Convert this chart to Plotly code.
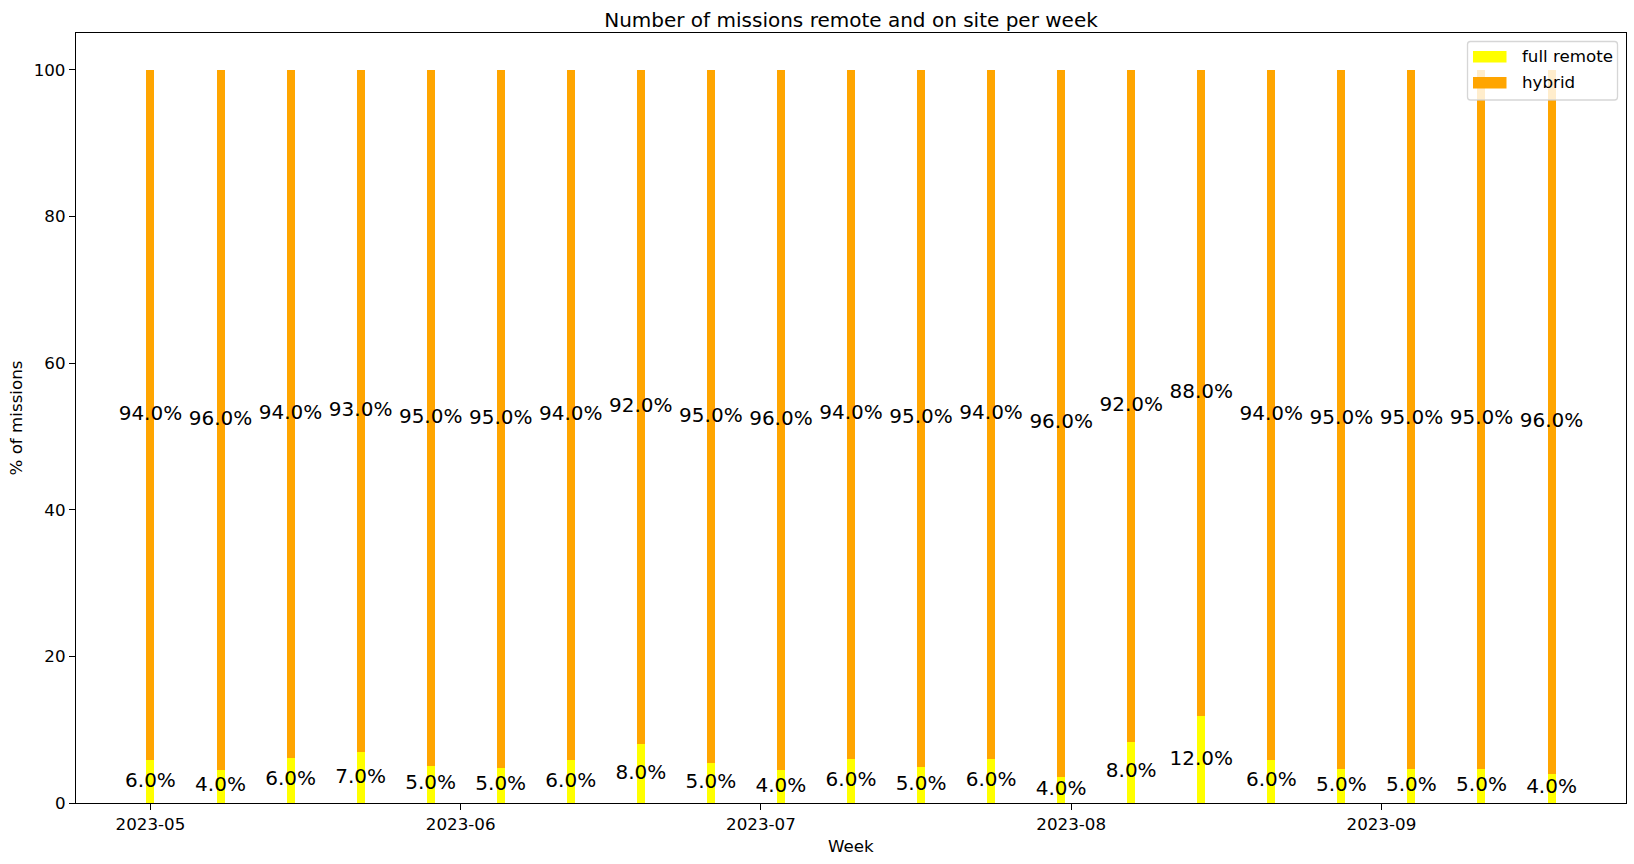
import plotly.graph_objects as go

weeks = ["2023-05-01", "2023-05-08", "2023-05-15", "2023-05-22", "2023-05-29", "2023-06-05",
         "2023-06-12", "2023-06-19", "2023-06-26", "2023-07-03", "2023-07-10", "2023-07-17",
         "2023-07-24", "2023-07-31", "2023-08-07", "2023-08-14", "2023-08-21", "2023-08-28",
         "2023-09-04", "2023-09-11", "2023-09-18"]
remote_pct = [5.8, 4.55, 6.2, 6.9, 5.1, 4.8, 5.8, 8.0, 5.4, 4.45, 6.05, 4.95, 6.05, 3.6,
              8.35, 11.8, 5.9, 4.7, 4.7, 4.7, 4.0]
hybrid_pct = [94.2, 95.45, 93.8, 93.1, 94.9, 95.2, 94.2, 92.0, 94.6, 95.55, 93.95, 95.05,
              93.95, 96.4, 91.65, 88.2, 94.1, 95.3, 95.3, 95.3, 96.0]
remote_labels = ["6.0%", "4.0%", "6.0%", "7.0%", "5.0%", "5.0%", "6.0%", "8.0%", "5.0%", "4.0%",
                 "6.0%", "5.0%", "6.0%", "4.0%", "8.0%", "12.0%", "6.0%", "5.0%", "5.0%", "5.0%", "4.0%"]
hybrid_labels = ["94.0%", "96.0%", "94.0%", "93.0%", "95.0%", "95.0%", "94.0%", "92.0%", "95.0%",
                 "96.0%", "94.0%", "95.0%", "94.0%", "96.0%", "92.0%", "88.0%", "94.0%", "95.0%",
                 "95.0%", "95.0%", "96.0%"]
series_names = ["full remote", "hybrid"]
series_colors = ["#ffff00", "#ffa500"]
y_ticks = [0, 20, 40, 60, 80, 100]
x_ticks = ["2023-05-01", "2023-06-01", "2023-07-01", "2023-08-01", "2023-09-01"]
x_tick_labels = ["2023-05", "2023-06", "2023-07", "2023-08", "2023-09"]

FONT = "DejaVu Sans"
W, H = 1634, 864
L, R, T, B = 76, 8, 33, 61
PW, PH = W - L - R, H - T - B
BAR_W = 0.8 * 86400000  # 0.8 day in ms


def px(x):
    return (x - L) / PW


def py(y):
    return (H - B - y) / PH


fig = go.Figure()
fig.add_trace(go.Bar(x=weeks, y=remote_pct, width=[BAR_W] * len(weeks), name=series_names[0],
                     marker=dict(color=series_colors[0], line=dict(width=0)), hoverinfo="skip",
                     showlegend=False))
fig.add_trace(go.Bar(x=weeks, y=hybrid_pct, width=[BAR_W] * len(weeks), name=series_names[1],
                     marker=dict(color=series_colors[1], line=dict(width=0)), hoverinfo="skip",
                     showlegend=False))

remote_mid = [r / 2 for r in remote_pct]
hybrid_mid = [r + h / 2 for r, h in zip(remote_pct, hybrid_pct)]
fig.add_trace(go.Scatter(x=weeks, y=remote_mid, text=remote_labels, mode="text",
                         textposition="middle center", showlegend=False, hoverinfo="skip",
                         textfont=dict(family=FONT, size=20, color="black")))
fig.add_trace(go.Scatter(x=weeks, y=hybrid_mid, text=hybrid_labels, mode="text",
                         textposition="middle center", showlegend=False, hoverinfo="skip",
                         textfont=dict(family=FONT, size=20, color="black")))

# matplotlib-style legend (upper right)
bx0, bx1, by0, by1, rad = 1467.5, 1617.5, 41.5, 100.0, 3.0


def rounded_rect(x0, y0, x1, y1, r):
    pts = [
        f"M {px(x0 + r)},{py(y0)}",
        f"L {px(x1 - r)},{py(y0)}",
        f"Q {px(x1)},{py(y0)} {px(x1)},{py(y0 + r)}",
        f"L {px(x1)},{py(y1 - r)}",
        f"Q {px(x1)},{py(y1)} {px(x1 - r)},{py(y1)}",
        f"L {px(x0 + r)},{py(y1)}",
        f"Q {px(x0)},{py(y1)} {px(x0)},{py(y1 - r)}",
        f"L {px(x0)},{py(y0 + r)}",
        f"Q {px(x0)},{py(y0)} {px(x0 + r)},{py(y0)}",
        "Z",
    ]
    return " ".join(pts)


shapes = [dict(type="path", xref="paper", yref="paper", layer="above",
               path=rounded_rect(bx0, by0, bx1, by1, rad),
               fillcolor="rgba(255,255,255,0.8)", line=dict(color="rgba(204,204,204,0.8)", width=1.3))]
annotations = []
entry_centers = [56.8, 82.8]
for name, color, cy in zip(series_names, series_colors, entry_centers):
    shapes.append(dict(type="rect", xref="paper", yref="paper", layer="above",
                       x0=px(1473), x1=px(1506.5), y0=py(cy - 5.8), y1=py(cy + 5.8),
                       fillcolor=color, line=dict(width=0)))
    annotations.append(dict(text=name, xref="paper", yref="paper", x=px(1520), y=py(cy - 0.5),
                            xanchor="left", yanchor="middle", showarrow=False,
                            font=dict(family=FONT, size=16.7, color="black")))

# axis titles
annotations.append(dict(text="Week", xref="paper", yref="paper", x=0.5, y=py(846),
                        xanchor="center", yanchor="middle", showarrow=False,
                        font=dict(family=FONT, size=16.7, color="black")))
annotations.append(dict(text="% of missions", xref="paper", yref="paper", x=px(15.5), y=0.5,
                        xanchor="center", yanchor="middle", textangle=-90, showarrow=False,
                        font=dict(family=FONT, size=16.7, color="black")))

fig.update_layout(
    barmode="stack",
    width=W, height=H,
    margin=dict(l=L, r=R, t=T, b=B, autoexpand=False),
    paper_bgcolor="white", plot_bgcolor="white",
    font=dict(family=FONT, size=16.7, color="black"),
    title=dict(text="Number of missions remote and on site per week", xref="paper", x=0.5,
               xanchor="center", yref="container", y=1 - 19.5 / H, yanchor="middle",
               font=dict(size=20, family=FONT, color="black")),
    showlegend=False,
    shapes=shapes,
    annotations=annotations,
)
fig.update_xaxes(
    type="date", range=["2023-04-23 13:26", "2023-09-25 10:34"],
    tickmode="array", tickvals=x_ticks, ticktext=x_tick_labels,
    showline=True, linecolor="black", linewidth=1.3, mirror=True,
    ticks="outside", ticklen=6, tickwidth=1.3, tickcolor="black", showgrid=False, zeroline=False,
)
fig.update_yaxes(
    range=[0, 105], tickmode="array", tickvals=y_ticks,
    showline=True, linecolor="black", linewidth=1.3, mirror=True,
    ticks="outside", ticklen=6, tickwidth=1.3, tickcolor="black", showgrid=False, zeroline=False,
)

fig.write_html("out.html")
